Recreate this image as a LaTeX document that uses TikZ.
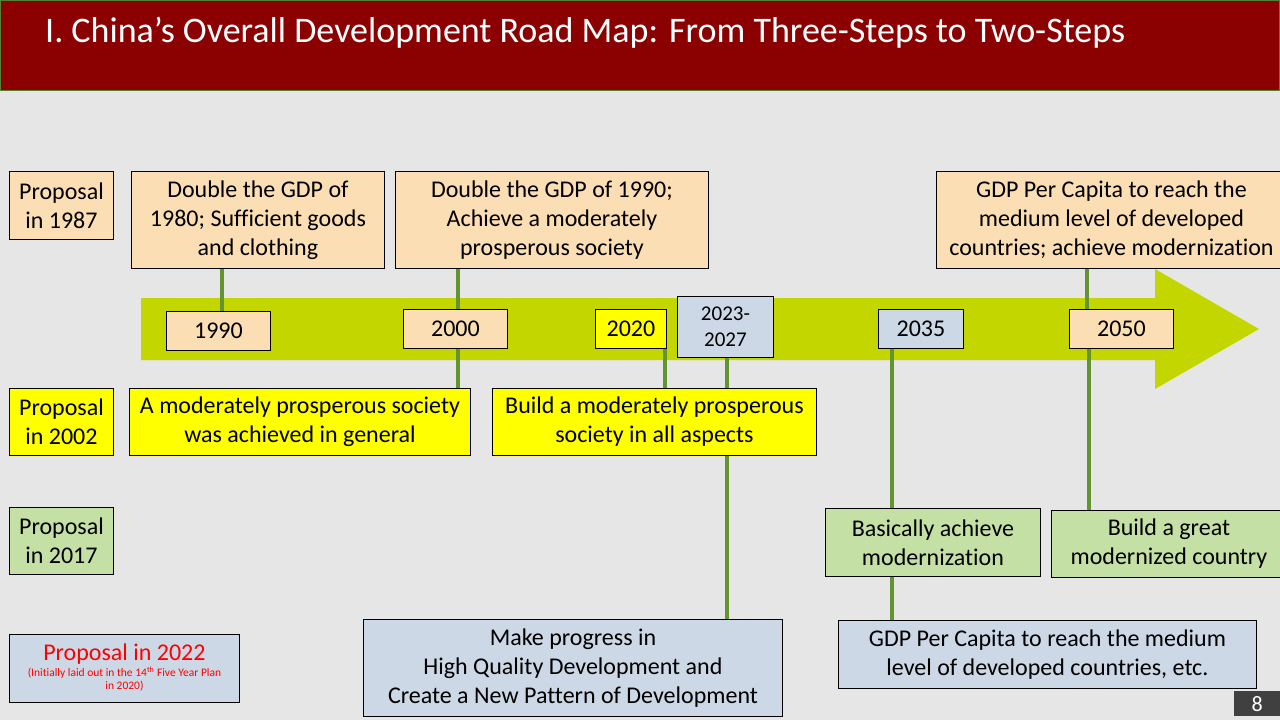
\documentclass[tikz,border=0pt]{standalone}
\usepackage{fontspec}
\setmainfont{Carlito}[Ligatures=NoCommon]
\definecolor{bg}{RGB}{230,230,230}
\definecolor{titlered}{RGB}{139,0,0}
\definecolor{titlegreen}{RGB}{84,130,53}
\definecolor{arrowgreen}{RGB}{196,214,0}
\definecolor{conngreen}{RGB}{98,148,48}
\definecolor{peach}{RGB}{251,222,180}
\definecolor{yel}{RGB}{255,255,0}
\definecolor{lgreen}{RGB}{197,224,165}
\definecolor{lblue}{RGB}{205,216,230}
\definecolor{pgray}{RGB}{64,64,64}
\pgfdeclarelayer{backlayer}
\pgfdeclarelayer{midlayer}
\pgfsetlayers{backlayer,midlayer,main}
\tikzset{
  box/.style={draw=black, line width=0.9pt, align=center, inner sep=0pt, anchor=north west, font=\fontsize{24}{29}\selectfont},
  conn/.style={draw=conngreen, line width=4pt},
}
\newcommand{\bx}[8]{% name, fill, x, y, w, h, text, extra options
  \node[box, fill=#2, minimum width=#5, minimum height=#6, #8] (#1) at (#3,#4) {#7};}
\begin{document}
\begin{tikzpicture}[x=1pt,y=-1pt]
\useasboundingbox (0,0) rectangle (1280,720);
\begin{pgfonlayer}{backlayer}
\fill[bg] (0,0) rectangle (1280,720);
\fill[titlered] (0,0) rectangle (1280,91);
\draw[titlegreen, line width=1pt] (0.5,0.5) rectangle (1279.5,90.5);
\fill[arrowgreen] (141,298) -- (1155,298) -- (1155,269) -- (1259,329) -- (1155,389) -- (1155,360) -- (141,360) -- cycle;
\end{pgfonlayer}
\node[anchor=west, text=white, font=\fontsize{36}{42}\selectfont, inner sep=0pt] (title) at (45,33) {I. China’s Overall Development Road Map: From Three-Steps to Two-Steps};
% proposal labels
\bx{p1987}{peach}{9}{171}{104}{68}{Proposal\\in 1987}{}
\bx{p2002}{yel}{9}{388}{104}{67}{Proposal\\in 2002}{}
\bx{p2017}{lgreen}{9}{507}{104}{67}{Proposal\\in 2017}{}
\bx{p2022}{lblue}{9}{634}{230}{68}{Proposal in 2022\\[-6pt]{\fontsize{11.5}{13}\selectfont\begin{tabular}{@{}c@{}}(Initially laid out in the 14\textsuperscript{th} Five Year Plan\\in 2020)\end{tabular}}}{text=red}
% top boxes
\bx{ta}{peach}{131}{171}{253}{97}{Double the GDP of\\1980; Sufficient goods\\and clothing}{}
\bx{tb}{peach}{395}{171}{313}{97}{Double the GDP of 1990;\\Achieve a moderately\\prosperous society}{}
\bx{tc}{peach}{936}{171}{350}{97}{GDP Per Capita to reach the\\medium level of developed\\countries; achieve modernization}{}
% year boxes
\bx{y1990}{peach}{166}{311}{104}{39}{1990}{}
\bx{y2000}{peach}{403}{309}{104}{39}{2000}{}
\bx{y2020}{yel}{595}{309}{71}{39}{2020}{}
\bx{y2023}{lblue}{677}{296}{96}{61}{2023-\\2027}{font=\fontsize{21}{26}\selectfont}
\bx{y2035}{lblue}{878}{309}{85}{39}{2035}{}
\bx{y2050}{peach}{1069}{309}{104}{39}{2050}{}
% lower boxes
\bx{ba}{yel}{129}{388}{341}{67}{A moderately prosperous society\\was achieved in general}{}
\bx{bb}{yel}{492}{388}{324}{67}{Build a moderately prosperous\\society in all aspects}{}
\bx{ga}{lgreen}{825}{508}{215}{68}{Basically achieve\\modernization}{}
\bx{gb}{lgreen}{1051}{510}{235}{67}{Build a great\\modernized country}{}
\bx{la}{lblue}{363}{619}{419}{97}{Make progress in\\High Quality Development and\\Create a New Pattern of Development}{}
\bx{lb}{lblue}{838}{620}{418}{68}{GDP Per Capita to reach the medium\\level of developed countries, etc.}{}
% page number
\node[fill=pgray, text=white, anchor=north west, minimum width=46, minimum height=25, inner sep=0pt, font=\fontsize{22}{24}\selectfont] (pg) at (1234,691) {8};
% connectors
\begin{pgfonlayer}{midlayer}
\draw[conn] ([xshift=4]y1990.north) -- ([xshift=4]y1990.north |- ta.south);
\draw[conn] ([xshift=3]y2000.north) -- ([xshift=3]y2000.north |- tb.south);
\draw[conn] ([xshift=18]y2050.north west) -- ([xshift=18]y2050.north west |- tc.south);
\draw[conn] ([xshift=3]y2000.south) -- ([xshift=3]y2000.south |- ba.north);
\draw[conn] ([xshift=-2]y2020.south east) -- ([xshift=-2]y2020.south east |- bb.north);
\draw[conn] ([xshift=2]y2023.south) -- ([xshift=2]y2023.south |- la.north);
\draw[conn] ([xshift=14]y2035.south west) -- ([xshift=14]y2035.south west |- lb.north);
\draw[conn] ([xshift=20]y2050.south west) -- ([xshift=20]y2050.south west |- gb.north);
\end{pgfonlayer}
\end{tikzpicture}
\end{document}
